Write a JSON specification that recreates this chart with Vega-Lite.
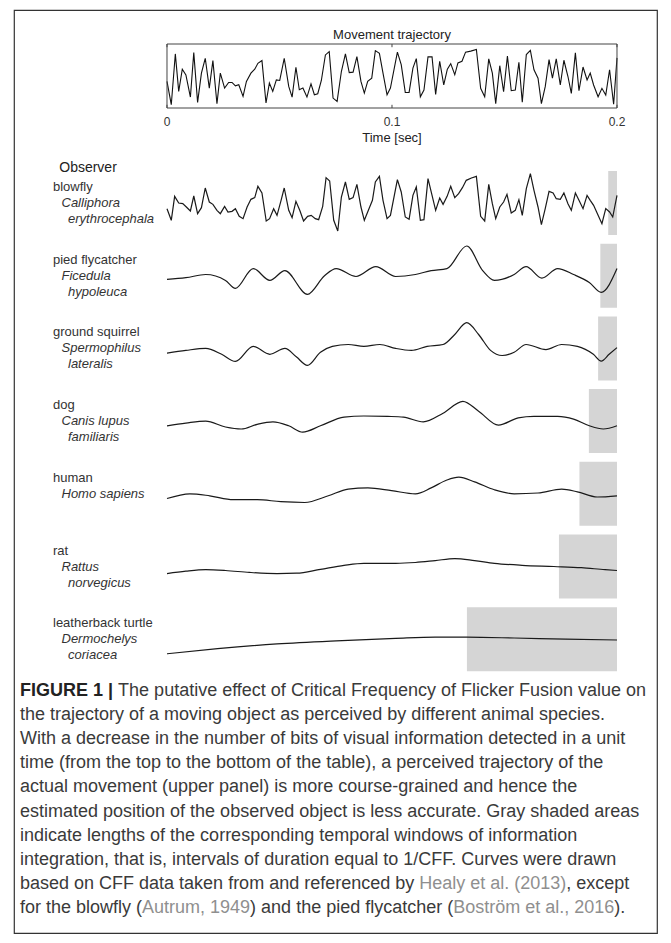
{
"$schema": "https://vega.github.io/schema/vega-lite/v6.json",
"width": 671, "height": 943,
"autosize": {"type": "fit", "contains": "padding"},
"padding": {"left": 14, "top": 10, "right": 14, "bottom": 10},
"background": "white",
"config": {"view": {"stroke": "#333333", "strokeWidth": 1.2}, "axis": {"disable": true}, "font": "Liberation Sans"},
"datasets": {
"traj": [
{"t":0,"v":0.415},{"t":0.0019,"v":0.052},{"t":0.0037,"v":0.845},{"t":0.0052,"v":0.259},{"t":0.0068,"v":0.606},{"t":0.0084,"v":0.518},{"t":0.0104,"v":0.171},{"t":0.0119,"v":0.865},{"t":0.0136,"v":0.088},{"t":0.0153,"v":0.544},{"t":0.017,"v":0.777},{"t":0.0188,"v":0.311},{"t":0.0204,"v":0.741},{"t":0.0222,"v":0.067},{"t":0.0237,"v":0.544},{"t":0.0256,"v":0.311},{"t":0.0274,"v":0.399},{"t":0.0289,"v":0.399},{"t":0.0304,"v":0.347},{"t":0.0319,"v":0.363},{"t":0.0338,"v":0.181},{"t":0.0353,"v":0.415},{"t":0.0373,"v":0.544},{"t":0.039,"v":0.606},{"t":0.0404,"v":0.699},{"t":0.0422,"v":0.741},{"t":0.044,"v":0.078},{"t":0.0455,"v":0.389},{"t":0.047,"v":0.259},{"t":0.0486,"v":0.44},{"t":0.0501,"v":0.43},{"t":0.0521,"v":0.777},{"t":0.0541,"v":0.337},{"t":0.0556,"v":0.171},{"t":0.0573,"v":0.637},{"t":0.0588,"v":0.285},{"t":0.0604,"v":0.311},{"t":0.0622,"v":0.171},{"t":0.064,"v":0.378},{"t":0.0655,"v":0.207},{"t":0.067,"v":0.223},{"t":0.0686,"v":0.43},{"t":0.0704,"v":0.829},{"t":0.0721,"v":0.881},{"t":0.0738,"v":0.155},{"t":0.0756,"v":0.104},{"t":0.0775,"v":0.57},{"t":0.0793,"v":0.845},{"t":0.081,"v":0.554},{"t":0.0827,"v":0.56},{"t":0.0844,"v":0.803},{"t":0.0862,"v":0.415},{"t":0.0877,"v":0.233},{"t":0.0892,"v":0.415},{"t":0.091,"v":0.466},{"t":0.0926,"v":0.896},{"t":0.0944,"v":0.855},{"t":0.096,"v":0.544},{"t":0.0978,"v":0.207},{"t":0.0993,"v":0.311},{"t":0.1024,"v":0.873},{"t":0.1041,"v":0.677},{"t":0.1059,"v":0.243},{"t":0.1076,"v":0.243},{"t":0.1093,"v":0.624},{"t":0.1108,"v":0.772},{"t":0.1126,"v":0.175},{"t":0.1142,"v":0.28},{"t":0.116,"v":0.799},{"t":0.1178,"v":0.799},{"t":0.1194,"v":0.212},{"t":0.1212,"v":0.73},{"t":0.123,"v":0.36},{"t":0.1246,"v":0.608},{"t":0.1261,"v":0.693},{"t":0.1279,"v":0.519},{"t":0.1293,"v":0.704},{"t":0.1311,"v":0.73},{"t":0.1327,"v":0.873},{"t":0.135,"v":0.889},{"t":0.1375,"v":0.915},{"t":0.1394,"v":0.307},{"t":0.1412,"v":0.175},{"t":0.143,"v":0.767},{"t":0.1446,"v":0.545},{"t":0.1461,"v":0.069},{"t":0.1479,"v":0.661},{"t":0.1496,"v":0.254},{"t":0.1513,"v":0.81},{"t":0.153,"v":0.27},{"t":0.1548,"v":0.28},{"t":0.1564,"v":0.714},{"t":0.1579,"v":0.09},{"t":0.1597,"v":0.836},{"t":0.1615,"v":0.899},{"t":0.1631,"v":0.598},{"t":0.1649,"v":0.466},{"t":0.1664,"v":0.069},{"t":0.1681,"v":0.333},{"t":0.1698,"v":0.757},{"t":0.1713,"v":0.466},{"t":0.173,"v":0.767},{"t":0.1748,"v":0.36},{"t":0.1764,"v":0.746},{"t":0.1782,"v":0.492},{"t":0.1797,"v":0.228},{"t":0.1815,"v":0.862},{"t":0.1831,"v":0.27},{"t":0.1849,"v":0.64},{"t":0.1867,"v":0.439},{"t":0.1881,"v":0.545},{"t":0.1896,"v":0.36},{"t":0.1916,"v":0.175},{"t":0.1933,"v":0.307},{"t":0.195,"v":0.201},{"t":0.1967,"v":0.598},{"t":0.1985,"v":0.058},{"t":0.2,"v":0.783}
],
"curves": [
{"sp":"blowfly","t":0,"v":-0.567},{"sp":"blowfly","t":0.0019,"v":-1.733},{"sp":"blowfly","t":0.0034,"v":0.667},{"sp":"blowfly","t":0.0052,"v":0},{"sp":"blowfly","t":0.007,"v":-0.067},{"sp":"blowfly","t":0.0086,"v":-0.4},{"sp":"blowfly","t":0.0104,"v":-0.8},{"sp":"blowfly","t":0.0119,"v":0.7},{"sp":"blowfly","t":0.0136,"v":-1.067},{"sp":"blowfly","t":0.0153,"v":-0.467},{"sp":"blowfly","t":0.017,"v":1.5},{"sp":"blowfly","t":0.0188,"v":0.1},{"sp":"blowfly","t":0.0204,"v":-0.133},{"sp":"blowfly","t":0.0222,"v":-0.733},{"sp":"blowfly","t":0.0237,"v":-1.067},{"sp":"blowfly","t":0.0256,"v":-0.333},{"sp":"blowfly","t":0.0271,"v":-0.9},{"sp":"blowfly","t":0.0289,"v":-0.833},{"sp":"blowfly","t":0.0304,"v":-0.567},{"sp":"blowfly","t":0.0321,"v":-1.333},{"sp":"blowfly","t":0.0338,"v":-1.567},{"sp":"blowfly","t":0.0356,"v":-0.4},{"sp":"blowfly","t":0.0373,"v":0.367},{"sp":"blowfly","t":0.039,"v":0.533},{"sp":"blowfly","t":0.0404,"v":1.667},{"sp":"blowfly","t":0.0422,"v":1.0},{"sp":"blowfly","t":0.0441,"v":-1.8},{"sp":"blowfly","t":0.0456,"v":-1.567},{"sp":"blowfly","t":0.0474,"v":-0.567},{"sp":"blowfly","t":0.0489,"v":-1.233},{"sp":"blowfly","t":0.0507,"v":0.267},{"sp":"blowfly","t":0.0521,"v":1.5},{"sp":"blowfly","t":0.0541,"v":-0.733},{"sp":"blowfly","t":0.0556,"v":-1.467},{"sp":"blowfly","t":0.0573,"v":0.167},{"sp":"blowfly","t":0.059,"v":-0.733},{"sp":"blowfly","t":0.0607,"v":-1.8},{"sp":"blowfly","t":0.0625,"v":-1.333},{"sp":"blowfly","t":0.0641,"v":-1.233},{"sp":"blowfly","t":0.0659,"v":-1.567},{"sp":"blowfly","t":0.0674,"v":-1.667},{"sp":"blowfly","t":0.0692,"v":-0.333},{"sp":"blowfly","t":0.0707,"v":2.533},{"sp":"blowfly","t":0.0723,"v":2.2},{"sp":"blowfly","t":0.0741,"v":-1.733},{"sp":"blowfly","t":0.0759,"v":-2.8},{"sp":"blowfly","t":0.0775,"v":0.6},{"sp":"blowfly","t":0.0793,"v":2.1},{"sp":"blowfly","t":0.081,"v":0.367},{"sp":"blowfly","t":0.0827,"v":0.533},{"sp":"blowfly","t":0.0844,"v":1.867},{"sp":"blowfly","t":0.0862,"v":-0.4},{"sp":"blowfly","t":0.0877,"v":-1.733},{"sp":"blowfly","t":0.0895,"v":-0.733},{"sp":"blowfly","t":0.0913,"v":0.267},{"sp":"blowfly","t":0.0926,"v":2.1},{"sp":"blowfly","t":0.0944,"v":2.667},{"sp":"blowfly","t":0.096,"v":0.267},{"sp":"blowfly","t":0.0978,"v":-1.567},{"sp":"blowfly","t":0.0993,"v":-1.233},{"sp":"blowfly","t":0.1024,"v":2.333},{"sp":"blowfly","t":0.1041,"v":1.1},{"sp":"blowfly","t":0.1059,"v":-1.4},{"sp":"blowfly","t":0.1076,"v":-1.633},{"sp":"blowfly","t":0.1093,"v":0.767},{"sp":"blowfly","t":0.1108,"v":1.6},{"sp":"blowfly","t":0.1126,"v":-1.733},{"sp":"blowfly","t":0.1142,"v":-1.667},{"sp":"blowfly","t":0.116,"v":2.433},{"sp":"blowfly","t":0.1178,"v":0.767},{"sp":"blowfly","t":0.1194,"v":-0.733},{"sp":"blowfly","t":0.1212,"v":0.5},{"sp":"blowfly","t":0.1227,"v":-0.133},{"sp":"blowfly","t":0.1245,"v":0.667},{"sp":"blowfly","t":0.1261,"v":1.667},{"sp":"blowfly","t":0.1279,"v":0.533},{"sp":"blowfly","t":0.1296,"v":0.933},{"sp":"blowfly","t":0.1313,"v":1.533},{"sp":"blowfly","t":0.133,"v":2.267},{"sp":"blowfly","t":0.1353,"v":2.5},{"sp":"blowfly","t":0.1375,"v":2.667},{"sp":"blowfly","t":0.1394,"v":-1.333},{"sp":"blowfly","t":0.1412,"v":-1.8},{"sp":"blowfly","t":0.143,"v":1.867},{"sp":"blowfly","t":0.1446,"v":-0.067},{"sp":"blowfly","t":0.1461,"v":-1.567},{"sp":"blowfly","t":0.1479,"v":-0.4},{"sp":"blowfly","t":0.1496,"v":0.1},{"sp":"blowfly","t":0.1511,"v":0.867},{"sp":"blowfly","t":0.153,"v":-1.0},{"sp":"blowfly","t":0.1548,"v":-0.733},{"sp":"blowfly","t":0.1564,"v":0.333},{"sp":"blowfly","t":0.1579,"v":-1.233},{"sp":"blowfly","t":0.1597,"v":1.433},{"sp":"blowfly","t":0.1615,"v":2.933},{"sp":"blowfly","t":0.1631,"v":1.267},{"sp":"blowfly","t":0.1649,"v":-0.4},{"sp":"blowfly","t":0.1664,"v":-2.167},{"sp":"blowfly","t":0.1681,"v":-0.567},{"sp":"blowfly","t":0.1698,"v":1.167},{"sp":"blowfly","t":0.1716,"v":1.0},{"sp":"blowfly","t":0.173,"v":0.433},{"sp":"blowfly","t":0.1748,"v":0.367},{"sp":"blowfly","t":0.1764,"v":1.0},{"sp":"blowfly","t":0.1782,"v":-0.067},{"sp":"blowfly","t":0.1797,"v":-0.733},{"sp":"blowfly","t":0.1815,"v":1.0},{"sp":"blowfly","t":0.1831,"v":0.267},{"sp":"blowfly","t":0.1849,"v":-0.567},{"sp":"blowfly","t":0.1867,"v":0.767},{"sp":"blowfly","t":0.1881,"v":0.267},{"sp":"blowfly","t":0.1896,"v":-0.233},{"sp":"blowfly","t":0.1916,"v":-1.233},{"sp":"blowfly","t":0.1933,"v":-2.067},{"sp":"blowfly","t":0.195,"v":-0.567},{"sp":"blowfly","t":0.1967,"v":-0.9},{"sp":"blowfly","t":0.1981,"v":-1.4},{"sp":"blowfly","t":0.2,"v":0.767},
{"sp":"flycatcher","t":0,"v":-0.36},{"sp":"flycatcher","t":0.0084,"v":-0.2},{"sp":"flycatcher","t":0.0172,"v":0.12},{"sp":"flycatcher","t":0.026,"v":-0.47},{"sp":"flycatcher","t":0.0304,"v":-1.27},{"sp":"flycatcher","t":0.0383,"v":0.71},{"sp":"flycatcher","t":0.0457,"v":-0.47},{"sp":"flycatcher","t":0.0524,"v":0.51},{"sp":"flycatcher","t":0.0624,"v":-1.86},{"sp":"flycatcher","t":0.07,"v":0},{"sp":"flycatcher","t":0.0752,"v":0.71},{"sp":"flycatcher","t":0.084,"v":-0.08},{"sp":"flycatcher","t":0.0928,"v":0.91},{"sp":"flycatcher","t":0.1016,"v":-0.08},{"sp":"flycatcher","t":0.1104,"v":0.12},{"sp":"flycatcher","t":0.1174,"v":0.51},{"sp":"flycatcher","t":0.1244,"v":0.71},{"sp":"flycatcher","t":0.1332,"v":2.97},{"sp":"flycatcher","t":0.1403,"v":0.51},{"sp":"flycatcher","t":0.1455,"v":-0.47},{"sp":"flycatcher","t":0.1543,"v":0.12},{"sp":"flycatcher","t":0.1596,"v":0.91},{"sp":"flycatcher","t":0.1666,"v":-0.24},{"sp":"flycatcher","t":0.1736,"v":0.71},{"sp":"flycatcher","t":0.1807,"v":0.12},{"sp":"flycatcher","t":0.1877,"v":-0.68},{"sp":"flycatcher","t":0.193,"v":-1.66},{"sp":"flycatcher","t":0.2,"v":0.71},
{"sp":"squirrel","t":0,"v":-0.47},{"sp":"squirrel","t":0.0084,"v":-0.2},{"sp":"squirrel","t":0.0172,"v":0},{"sp":"squirrel","t":0.0243,"v":-0.59},{"sp":"squirrel","t":0.0304,"v":-1.3},{"sp":"squirrel","t":0.0383,"v":0.2},{"sp":"squirrel","t":0.0457,"v":-0.59},{"sp":"squirrel","t":0.0524,"v":0},{"sp":"squirrel","t":0.0576,"v":-0.87},{"sp":"squirrel","t":0.0624,"v":-1.7},{"sp":"squirrel","t":0.0682,"v":-0.39},{"sp":"squirrel","t":0.0735,"v":0.2},{"sp":"squirrel","t":0.0805,"v":0.39},{"sp":"squirrel","t":0.0875,"v":0.2},{"sp":"squirrel","t":0.0946,"v":0.39},{"sp":"squirrel","t":0.1016,"v":0},{"sp":"squirrel","t":0.1086,"v":-0.2},{"sp":"squirrel","t":0.1156,"v":0.2},{"sp":"squirrel","t":0.1227,"v":0.39},{"sp":"squirrel","t":0.1279,"v":1.39},{"sp":"squirrel","t":0.1332,"v":2.57},{"sp":"squirrel","t":0.1385,"v":1.39},{"sp":"squirrel","t":0.1438,"v":-0.2},{"sp":"squirrel","t":0.149,"v":-0.71},{"sp":"squirrel","t":0.1543,"v":-0.39},{"sp":"squirrel","t":0.1596,"v":0.39},{"sp":"squirrel","t":0.1684,"v":-0.12},{"sp":"squirrel","t":0.1754,"v":0.39},{"sp":"squirrel","t":0.1824,"v":0.2},{"sp":"squirrel","t":0.1895,"v":-0.59},{"sp":"squirrel","t":0.193,"v":-1.27},{"sp":"squirrel","t":0.1965,"v":-0.59},{"sp":"squirrel","t":0.2,"v":0.08},
{"sp":"dog","t":0,"v":-0.47},{"sp":"dog","t":0.0084,"v":-0.2},{"sp":"dog","t":0.0172,"v":0},{"sp":"dog","t":0.026,"v":-0.59},{"sp":"dog","t":0.033,"v":-0.79},{"sp":"dog","t":0.0401,"v":-0.32},{"sp":"dog","t":0.0471,"v":-0.08},{"sp":"dog","t":0.0541,"v":-0.47},{"sp":"dog","t":0.0603,"v":-1.1},{"sp":"dog","t":0.0682,"v":-0.47},{"sp":"dog","t":0.0787,"v":0.4},{"sp":"dog","t":0.0875,"v":0.51},{"sp":"dog","t":0.0981,"v":0.47},{"sp":"dog","t":0.1051,"v":0.4},{"sp":"dog","t":0.1139,"v":-0.08},{"sp":"dog","t":0.1227,"v":0.79},{"sp":"dog","t":0.1315,"v":1.98},{"sp":"dog","t":0.1385,"v":0.99},{"sp":"dog","t":0.1473,"v":-0.4},{"sp":"dog","t":0.1561,"v":0.32},{"sp":"dog","t":0.1631,"v":0.47},{"sp":"dog","t":0.1736,"v":0.47},{"sp":"dog","t":0.1807,"v":0.2},{"sp":"dog","t":0.1877,"v":-0.47},{"sp":"dog","t":0.1939,"v":-0.79},{"sp":"dog","t":0.2,"v":-0.47},
{"sp":"human","t":0,"v":-0.47},{"sp":"human","t":0.0102,"v":0},{"sp":"human","t":0.019,"v":-0.2},{"sp":"human","t":0.0295,"v":-0.59},{"sp":"human","t":0.0401,"v":-0.59},{"sp":"human","t":0.0506,"v":-0.79},{"sp":"human","t":0.0612,"v":-0.87},{"sp":"human","t":0.0717,"v":-0.2},{"sp":"human","t":0.0805,"v":0.47},{"sp":"human","t":0.0893,"v":0.59},{"sp":"human","t":0.0998,"v":0.32},{"sp":"human","t":0.1104,"v":0},{"sp":"human","t":0.1174,"v":0.59},{"sp":"human","t":0.1244,"v":1.38},{"sp":"human","t":0.1297,"v":1.66},{"sp":"human","t":0.1367,"v":1.19},{"sp":"human","t":0.1455,"v":0.4},{"sp":"human","t":0.1543,"v":0},{"sp":"human","t":0.1649,"v":0.08},{"sp":"human","t":0.1754,"v":0.47},{"sp":"human","t":0.1824,"v":0.2},{"sp":"human","t":0.1912,"v":-0.32},{"sp":"human","t":0.2,"v":-0.2},
{"sp":"rat","t":0,"v":-0.71},{"sp":"rat","t":0.0084,"v":-0.47},{"sp":"rat","t":0.0172,"v":-0.32},{"sp":"rat","t":0.026,"v":-0.4},{"sp":"rat","t":0.0366,"v":-0.59},{"sp":"rat","t":0.0489,"v":-0.71},{"sp":"rat","t":0.0576,"v":-0.67},{"sp":"rat","t":0.0682,"v":-0.28},{"sp":"rat","t":0.0787,"v":0.12},{"sp":"rat","t":0.0875,"v":0.32},{"sp":"rat","t":0.1016,"v":0.32},{"sp":"rat","t":0.1104,"v":0.4},{"sp":"rat","t":0.1192,"v":0.59},{"sp":"rat","t":0.1279,"v":0.79},{"sp":"rat","t":0.1367,"v":0.59},{"sp":"rat","t":0.1455,"v":0.32},{"sp":"rat","t":0.1578,"v":0.12},{"sp":"rat","t":0.1719,"v":0},{"sp":"rat","t":0.1842,"v":-0.12},{"sp":"rat","t":0.1947,"v":-0.32},{"sp":"rat","t":0.2,"v":-0.4},
{"sp":"turtle","t":0,"v":-1.46},{"sp":"turtle","t":0.0225,"v":-0.95},{"sp":"turtle","t":0.0489,"v":-0.47},{"sp":"turtle","t":0.0752,"v":-0.16},{"sp":"turtle","t":0.1016,"v":0.08},{"sp":"turtle","t":0.1192,"v":0.2},{"sp":"turtle","t":0.1332,"v":0.2},{"sp":"turtle","t":0.1543,"v":0.12},{"sp":"turtle","t":0.1772,"v":0},{"sp":"turtle","t":0.2,"v":-0.08}
],
"windows": [
{"sp":"blowfly","t0":0.1961,"t1":0.2},{"sp":"flycatcher","t0":0.1926,"t1":0.2},{"sp":"squirrel","t0":0.1916,"t1":0.2},{"sp":"dog","t0":0.1875,"t1":0.2},{"sp":"human","t0":0.1833,"t1":0.2},{"sp":"rat","t0":0.1742,"t1":0.2},{"sp":"turtle","t0":0.1333,"t1":0.2}
],
"labels": [
{"sp":"blowfly","line":1,"text":"blowfly"},{"sp":"blowfly","line":2,"text":"Calliphora"},{"sp":"blowfly","line":3,"text":"erythrocephala"},
{"sp":"flycatcher","line":1,"text":"pied flycatcher"},{"sp":"flycatcher","line":2,"text":"Ficedula"},{"sp":"flycatcher","line":3,"text":"hypoleuca"},
{"sp":"squirrel","line":1,"text":"ground squirrel"},{"sp":"squirrel","line":2,"text":"Spermophilus"},{"sp":"squirrel","line":3,"text":"lateralis"},
{"sp":"dog","line":1,"text":"dog"},{"sp":"dog","line":2,"text":"Canis lupus"},{"sp":"dog","line":3,"text":"familiaris"},
{"sp":"human","line":1,"text":"human"},{"sp":"human","line":2,"text":"Homo sapiens"},
{"sp":"rat","line":1,"text":"rat"},{"sp":"rat","line":2,"text":"Rattus"},{"sp":"rat","line":3,"text":"norvegicus"},
{"sp":"turtle","line":1,"text":"leatherback turtle"},{"sp":"turtle","line":2,"text":"Dermochelys"},{"sp":"turtle","line":3,"text":"coriacea"}
],
"ticks": [{"t":0,"label":"0"},{"t":0.1,"label":"0.1"},{"t":0.2,"label":"0.2"}],
"titles": [{"id":"top","text":"Movement trajectory"},{"id":"xaxis","text":"Time [sec]"},{"id":"observer","text":"Observer"}],
"caption": [
{"line":1,"seg":"bold","text":"FIGURE 1 |"},
{"line":1,"seg":"s1","text":"The putative effect of Critical Frequency of Flicker Fusion value on"},
{"line":2,"seg":"main","text":"the trajectory of a moving object as perceived by different animal species."},
{"line":3,"seg":"main","text":"With a decrease in the number of bits of visual information detected in a unit"},
{"line":4,"seg":"main","text":"time (from the top to the bottom of the table), a perceived trajectory of the"},
{"line":5,"seg":"main","text":"actual movement (upper panel) is more course-grained and hence the"},
{"line":6,"seg":"main","text":"estimated position of the observed object is less accurate. Gray shaded areas"},
{"line":7,"seg":"main","text":"indicate lengths of the corresponding temporal windows of information"},
{"line":8,"seg":"main","text":"integration, that is, intervals of duration equal to 1/CFF. Curves were drawn"},
{"line":9,"seg":"main","text":"based on CFF data taken from and referenced by"},
{"line":9,"seg":"r1","text":"Healy et al. (2013)"},
{"line":9,"seg":"s9","text":", except"},
{"line":10,"seg":"main","text":"for the blowfly ("},
{"line":10,"seg":"r2","text":"Autrum, 1949"},
{"line":10,"seg":"s10a","text":") and the pied flycatcher ("},
{"line":10,"seg":"r3","text":"Boström et al., 2016"},
{"line":10,"seg":"s10b","text":")."}
]
},
"resolve": {"scale": {"y": "independent"}},
"layer": [
{
"layer": [
{"data":{"name":"traj"},"mark":{"type":"line","color":"#111111","strokeWidth":1.1},"encoding":{"x":{"field":"t","type":"quantitative","scale":{"domain":[-0.068,0.217778],"nice":false,"zero":false}},"y":{"field":"v","type":"quantitative","scale":{"domain":[-12.890625,1.53125],"nice":false,"zero":false}}}},
{"data":{"values":[{"box":"trajectory"}]},"mark":{"type":"rect","filled":false,"stroke":"#444444","strokeWidth":1},"encoding":{"x":{"datum":0,"type":"quantitative","scale":{"domain":[-0.068,0.217778],"nice":false,"zero":false}},"x2":{"datum":0.2},"y":{"datum":0,"type":"quantitative","scale":{"domain":[-12.890625,1.53125],"nice":false,"zero":false}},"y2":{"datum":1}}},
{"data":{"name":"ticks"},"mark":{"type":"rule","color":"#444444","strokeWidth":1},"encoding":{"x":{"field":"t","type":"quantitative","scale":{"domain":[-0.068,0.217778],"nice":false,"zero":false}},"y":{"datum":0,"type":"quantitative","scale":{"domain":[-12.890625,1.53125],"nice":false,"zero":false}},"y2":{"datum":0.05}}},
{"data":{"name":"ticks"},"mark":{"type":"rule","color":"#444444","strokeWidth":1},"encoding":{"x":{"field":"t","type":"quantitative","scale":{"domain":[-0.068,0.217778],"nice":false,"zero":false}},"y":{"datum":0.95,"type":"quantitative","scale":{"domain":[-12.890625,1.53125],"nice":false,"zero":false}},"y2":{"datum":1}}},
{"data":{"name":"ticks"},"mark":{"type":"text","align":"center","baseline":"middle","fontSize":12,"color":"#333333"},"encoding":{"x":{"field":"t","type":"quantitative","scale":{"domain":[-0.068,0.217778],"nice":false,"zero":false}},"y":{"datum":-0.21875,"type":"quantitative","scale":{"domain":[-12.890625,1.53125],"nice":false,"zero":false}},"text":{"field":"label"}}},
{"data":{"name":"titles"},"transform":[{"filter":"datum.id==='top'"}],"mark":{"type":"text","align":"center","baseline":"middle","fontSize":13,"color":"#222222"},"encoding":{"x":{"datum":0.1,"type":"quantitative","scale":{"domain":[-0.068,0.217778],"nice":false,"zero":false}},"y":{"datum":1.14,"type":"quantitative","scale":{"domain":[-12.890625,1.53125],"nice":false,"zero":false}},"text":{"field":"text"}}},
{"data":{"name":"titles"},"transform":[{"filter":"datum.id==='xaxis'"}],"mark":{"type":"text","align":"center","baseline":"middle","fontSize":13,"color":"#222222"},"encoding":{"x":{"datum":0.1,"type":"quantitative","scale":{"domain":[-0.068,0.217778],"nice":false,"zero":false}},"y":{"datum":-0.46875,"type":"quantitative","scale":{"domain":[-12.890625,1.53125],"nice":false,"zero":false}},"text":{"field":"text"}}},
{"data":{"name":"titles"},"transform":[{"filter":"datum.id==='observer'"}],"mark":{"type":"text","align":"center","baseline":"middle","fontSize":14,"color":"#222222"},"encoding":{"x":{"datum":-0.0351,"type":"quantitative","scale":{"domain":[-0.068,0.217778],"nice":false,"zero":false}},"y":{"datum":-0.94,"type":"quantitative","scale":{"domain":[-12.890625,1.53125],"nice":false,"zero":false}},"text":{"field":"text"}}}
]
},
{
"layer": [
{"data":{"name":"windows"},"transform":[{"filter":"datum.sp==='blowfly'"}],"mark":{"type":"rect","color":"#d5d5d5"},"encoding":{"x":{"field":"t0","type":"quantitative","scale":{"domain":[-0.068,0.217778],"nice":false,"zero":false}},"x2":{"field":"t1"},"y":{"datum":-3.2,"type":"quantitative","scale":{"domain":[-73.0,19.3],"nice":false,"zero":false}},"y2":{"datum":3.2}}},
{"data":{"name":"curves"},"transform":[{"filter":"datum.sp==='blowfly'"}],"mark":{"type":"line","color":"#1a1a1a","strokeWidth":1.2},"encoding":{"x":{"field":"t","type":"quantitative","scale":{"domain":[-0.068,0.217778],"nice":false,"zero":false}},"y":{"field":"v","type":"quantitative","scale":{"domain":[-73.0,19.3],"nice":false,"zero":false}}}},
{"data":{"name":"labels"},"transform":[{"filter":"datum.sp==='blowfly' && datum.line===1"}],"mark":{"type":"text","align":"left","baseline":"middle","fontSize":13,"color":"#333333"},"encoding":{"x":{"datum":-0.050667,"type":"quantitative","scale":{"domain":[-0.068,0.217778],"nice":false,"zero":false}},"y":{"datum":1.6,"type":"quantitative","scale":{"domain":[-73.0,19.3],"nice":false,"zero":false}},"text":{"field":"text"}}},
{"data":{"name":"labels"},"transform":[{"filter":"datum.sp==='blowfly' && datum.line===2"}],"mark":{"type":"text","align":"left","baseline":"middle","fontSize":13,"fontStyle":"italic","color":"#333333"},"encoding":{"x":{"datum":-0.046889,"type":"quantitative","scale":{"domain":[-0.068,0.217778],"nice":false,"zero":false}},"y":{"datum":0,"type":"quantitative","scale":{"domain":[-73.0,19.3],"nice":false,"zero":false}},"text":{"field":"text"}}},
{"data":{"name":"labels"},"transform":[{"filter":"datum.sp==='blowfly' && datum.line===3"}],"mark":{"type":"text","align":"left","baseline":"middle","fontSize":13,"fontStyle":"italic","color":"#333333"},"encoding":{"x":{"datum":-0.044,"type":"quantitative","scale":{"domain":[-0.068,0.217778],"nice":false,"zero":false}},"y":{"datum":-1.6,"type":"quantitative","scale":{"domain":[-73.0,19.3],"nice":false,"zero":false}},"text":{"field":"text"}}}
]
},
{
"layer": [
{"data":{"name":"windows"},"transform":[{"filter":"datum.sp==='flycatcher'"}],"mark":{"type":"rect","color":"#d5d5d5"},"encoding":{"x":{"field":"t0","type":"quantitative","scale":{"domain":[-0.068,0.217778],"nice":false,"zero":false}},"x2":{"field":"t1"},"y":{"datum":-3.2,"type":"quantitative","scale":{"domain":[-65.73,26.57],"nice":false,"zero":false}},"y2":{"datum":3.2}}},
{"data":{"name":"curves"},"transform":[{"filter":"datum.sp==='flycatcher'"}],"mark":{"type":"line","color":"#1a1a1a","strokeWidth":1.2,"interpolate":"monotone"},"encoding":{"x":{"field":"t","type":"quantitative","scale":{"domain":[-0.068,0.217778],"nice":false,"zero":false}},"y":{"field":"v","type":"quantitative","scale":{"domain":[-65.73,26.57],"nice":false,"zero":false}}}},
{"data":{"name":"labels"},"transform":[{"filter":"datum.sp==='flycatcher' && datum.line===1"}],"mark":{"type":"text","align":"left","baseline":"middle","fontSize":13,"color":"#333333"},"encoding":{"x":{"datum":-0.050667,"type":"quantitative","scale":{"domain":[-0.068,0.217778],"nice":false,"zero":false}},"y":{"datum":1.6,"type":"quantitative","scale":{"domain":[-65.73,26.57],"nice":false,"zero":false}},"text":{"field":"text"}}},
{"data":{"name":"labels"},"transform":[{"filter":"datum.sp==='flycatcher' && datum.line===2"}],"mark":{"type":"text","align":"left","baseline":"middle","fontSize":13,"fontStyle":"italic","color":"#333333"},"encoding":{"x":{"datum":-0.046889,"type":"quantitative","scale":{"domain":[-0.068,0.217778],"nice":false,"zero":false}},"y":{"datum":0,"type":"quantitative","scale":{"domain":[-65.73,26.57],"nice":false,"zero":false}},"text":{"field":"text"}}},
{"data":{"name":"labels"},"transform":[{"filter":"datum.sp==='flycatcher' && datum.line===3"}],"mark":{"type":"text","align":"left","baseline":"middle","fontSize":13,"fontStyle":"italic","color":"#333333"},"encoding":{"x":{"datum":-0.044,"type":"quantitative","scale":{"domain":[-0.068,0.217778],"nice":false,"zero":false}},"y":{"datum":-1.6,"type":"quantitative","scale":{"domain":[-65.73,26.57],"nice":false,"zero":false}},"text":{"field":"text"}}}
]
},
{
"layer": [
{"data":{"name":"windows"},"transform":[{"filter":"datum.sp==='squirrel'"}],"mark":{"type":"rect","color":"#d5d5d5"},"encoding":{"x":{"field":"t0","type":"quantitative","scale":{"domain":[-0.068,0.217778],"nice":false,"zero":false}},"x2":{"field":"t1"},"y":{"datum":-3.2,"type":"quantitative","scale":{"domain":[-58.46,33.84],"nice":false,"zero":false}},"y2":{"datum":3.2}}},
{"data":{"name":"curves"},"transform":[{"filter":"datum.sp==='squirrel'"}],"mark":{"type":"line","color":"#1a1a1a","strokeWidth":1.2,"interpolate":"monotone"},"encoding":{"x":{"field":"t","type":"quantitative","scale":{"domain":[-0.068,0.217778],"nice":false,"zero":false}},"y":{"field":"v","type":"quantitative","scale":{"domain":[-58.46,33.84],"nice":false,"zero":false}}}},
{"data":{"name":"labels"},"transform":[{"filter":"datum.sp==='squirrel' && datum.line===1"}],"mark":{"type":"text","align":"left","baseline":"middle","fontSize":13,"color":"#333333"},"encoding":{"x":{"datum":-0.050667,"type":"quantitative","scale":{"domain":[-0.068,0.217778],"nice":false,"zero":false}},"y":{"datum":1.6,"type":"quantitative","scale":{"domain":[-58.46,33.84],"nice":false,"zero":false}},"text":{"field":"text"}}},
{"data":{"name":"labels"},"transform":[{"filter":"datum.sp==='squirrel' && datum.line===2"}],"mark":{"type":"text","align":"left","baseline":"middle","fontSize":13,"fontStyle":"italic","color":"#333333"},"encoding":{"x":{"datum":-0.046889,"type":"quantitative","scale":{"domain":[-0.068,0.217778],"nice":false,"zero":false}},"y":{"datum":0,"type":"quantitative","scale":{"domain":[-58.46,33.84],"nice":false,"zero":false}},"text":{"field":"text"}}},
{"data":{"name":"labels"},"transform":[{"filter":"datum.sp==='squirrel' && datum.line===3"}],"mark":{"type":"text","align":"left","baseline":"middle","fontSize":13,"fontStyle":"italic","color":"#333333"},"encoding":{"x":{"datum":-0.044,"type":"quantitative","scale":{"domain":[-0.068,0.217778],"nice":false,"zero":false}},"y":{"datum":-1.6,"type":"quantitative","scale":{"domain":[-58.46,33.84],"nice":false,"zero":false}},"text":{"field":"text"}}}
]
},
{
"layer": [
{"data":{"name":"windows"},"transform":[{"filter":"datum.sp==='dog'"}],"mark":{"type":"rect","color":"#d5d5d5"},"encoding":{"x":{"field":"t0","type":"quantitative","scale":{"domain":[-0.068,0.217778],"nice":false,"zero":false}},"x2":{"field":"t1"},"y":{"datum":-3.2,"type":"quantitative","scale":{"domain":[-51.19,41.11],"nice":false,"zero":false}},"y2":{"datum":3.2}}},
{"data":{"name":"curves"},"transform":[{"filter":"datum.sp==='dog'"}],"mark":{"type":"line","color":"#1a1a1a","strokeWidth":1.2,"interpolate":"monotone"},"encoding":{"x":{"field":"t","type":"quantitative","scale":{"domain":[-0.068,0.217778],"nice":false,"zero":false}},"y":{"field":"v","type":"quantitative","scale":{"domain":[-51.19,41.11],"nice":false,"zero":false}}}},
{"data":{"name":"labels"},"transform":[{"filter":"datum.sp==='dog' && datum.line===1"}],"mark":{"type":"text","align":"left","baseline":"middle","fontSize":13,"color":"#333333"},"encoding":{"x":{"datum":-0.050667,"type":"quantitative","scale":{"domain":[-0.068,0.217778],"nice":false,"zero":false}},"y":{"datum":1.6,"type":"quantitative","scale":{"domain":[-51.19,41.11],"nice":false,"zero":false}},"text":{"field":"text"}}},
{"data":{"name":"labels"},"transform":[{"filter":"datum.sp==='dog' && datum.line===2"}],"mark":{"type":"text","align":"left","baseline":"middle","fontSize":13,"fontStyle":"italic","color":"#333333"},"encoding":{"x":{"datum":-0.046889,"type":"quantitative","scale":{"domain":[-0.068,0.217778],"nice":false,"zero":false}},"y":{"datum":0,"type":"quantitative","scale":{"domain":[-51.19,41.11],"nice":false,"zero":false}},"text":{"field":"text"}}},
{"data":{"name":"labels"},"transform":[{"filter":"datum.sp==='dog' && datum.line===3"}],"mark":{"type":"text","align":"left","baseline":"middle","fontSize":13,"fontStyle":"italic","color":"#333333"},"encoding":{"x":{"datum":-0.044,"type":"quantitative","scale":{"domain":[-0.068,0.217778],"nice":false,"zero":false}},"y":{"datum":-1.6,"type":"quantitative","scale":{"domain":[-51.19,41.11],"nice":false,"zero":false}},"text":{"field":"text"}}}
]
},
{
"layer": [
{"data":{"name":"windows"},"transform":[{"filter":"datum.sp==='human'"}],"mark":{"type":"rect","color":"#d5d5d5"},"encoding":{"x":{"field":"t0","type":"quantitative","scale":{"domain":[-0.068,0.217778],"nice":false,"zero":false}},"x2":{"field":"t1"},"y":{"datum":-3.2,"type":"quantitative","scale":{"domain":[-43.92,48.38],"nice":false,"zero":false}},"y2":{"datum":3.2}}},
{"data":{"name":"curves"},"transform":[{"filter":"datum.sp==='human'"}],"mark":{"type":"line","color":"#1a1a1a","strokeWidth":1.2,"interpolate":"monotone"},"encoding":{"x":{"field":"t","type":"quantitative","scale":{"domain":[-0.068,0.217778],"nice":false,"zero":false}},"y":{"field":"v","type":"quantitative","scale":{"domain":[-43.92,48.38],"nice":false,"zero":false}}}},
{"data":{"name":"labels"},"transform":[{"filter":"datum.sp==='human' && datum.line===1"}],"mark":{"type":"text","align":"left","baseline":"middle","fontSize":13,"color":"#333333"},"encoding":{"x":{"datum":-0.050667,"type":"quantitative","scale":{"domain":[-0.068,0.217778],"nice":false,"zero":false}},"y":{"datum":1.6,"type":"quantitative","scale":{"domain":[-43.92,48.38],"nice":false,"zero":false}},"text":{"field":"text"}}},
{"data":{"name":"labels"},"transform":[{"filter":"datum.sp==='human' && datum.line===2"}],"mark":{"type":"text","align":"left","baseline":"middle","fontSize":13,"fontStyle":"italic","color":"#333333"},"encoding":{"x":{"datum":-0.046889,"type":"quantitative","scale":{"domain":[-0.068,0.217778],"nice":false,"zero":false}},"y":{"datum":0,"type":"quantitative","scale":{"domain":[-43.92,48.38],"nice":false,"zero":false}},"text":{"field":"text"}}}
]
},
{
"layer": [
{"data":{"name":"windows"},"transform":[{"filter":"datum.sp==='rat'"}],"mark":{"type":"rect","color":"#d5d5d5"},"encoding":{"x":{"field":"t0","type":"quantitative","scale":{"domain":[-0.068,0.217778],"nice":false,"zero":false}},"x2":{"field":"t1"},"y":{"datum":-3.2,"type":"quantitative","scale":{"domain":[-36.65,55.65],"nice":false,"zero":false}},"y2":{"datum":3.2}}},
{"data":{"name":"curves"},"transform":[{"filter":"datum.sp==='rat'"}],"mark":{"type":"line","color":"#1a1a1a","strokeWidth":1.2,"interpolate":"monotone"},"encoding":{"x":{"field":"t","type":"quantitative","scale":{"domain":[-0.068,0.217778],"nice":false,"zero":false}},"y":{"field":"v","type":"quantitative","scale":{"domain":[-36.65,55.65],"nice":false,"zero":false}}}},
{"data":{"name":"labels"},"transform":[{"filter":"datum.sp==='rat' && datum.line===1"}],"mark":{"type":"text","align":"left","baseline":"middle","fontSize":13,"color":"#333333"},"encoding":{"x":{"datum":-0.050667,"type":"quantitative","scale":{"domain":[-0.068,0.217778],"nice":false,"zero":false}},"y":{"datum":1.6,"type":"quantitative","scale":{"domain":[-36.65,55.65],"nice":false,"zero":false}},"text":{"field":"text"}}},
{"data":{"name":"labels"},"transform":[{"filter":"datum.sp==='rat' && datum.line===2"}],"mark":{"type":"text","align":"left","baseline":"middle","fontSize":13,"fontStyle":"italic","color":"#333333"},"encoding":{"x":{"datum":-0.046889,"type":"quantitative","scale":{"domain":[-0.068,0.217778],"nice":false,"zero":false}},"y":{"datum":0,"type":"quantitative","scale":{"domain":[-36.65,55.65],"nice":false,"zero":false}},"text":{"field":"text"}}},
{"data":{"name":"labels"},"transform":[{"filter":"datum.sp==='rat' && datum.line===3"}],"mark":{"type":"text","align":"left","baseline":"middle","fontSize":13,"fontStyle":"italic","color":"#333333"},"encoding":{"x":{"datum":-0.044,"type":"quantitative","scale":{"domain":[-0.068,0.217778],"nice":false,"zero":false}},"y":{"datum":-1.6,"type":"quantitative","scale":{"domain":[-36.65,55.65],"nice":false,"zero":false}},"text":{"field":"text"}}}
]
},
{
"layer": [
{"data":{"name":"windows"},"transform":[{"filter":"datum.sp==='turtle'"}],"mark":{"type":"rect","color":"#d5d5d5"},"encoding":{"x":{"field":"t0","type":"quantitative","scale":{"domain":[-0.068,0.217778],"nice":false,"zero":false}},"x2":{"field":"t1"},"y":{"datum":-3.2,"type":"quantitative","scale":{"domain":[-29.38,62.92],"nice":false,"zero":false}},"y2":{"datum":3.2}}},
{"data":{"name":"curves"},"transform":[{"filter":"datum.sp==='turtle'"}],"mark":{"type":"line","color":"#1a1a1a","strokeWidth":1.2,"interpolate":"monotone"},"encoding":{"x":{"field":"t","type":"quantitative","scale":{"domain":[-0.068,0.217778],"nice":false,"zero":false}},"y":{"field":"v","type":"quantitative","scale":{"domain":[-29.38,62.92],"nice":false,"zero":false}}}},
{"data":{"name":"labels"},"transform":[{"filter":"datum.sp==='turtle' && datum.line===1"}],"mark":{"type":"text","align":"left","baseline":"middle","fontSize":13,"color":"#333333"},"encoding":{"x":{"datum":-0.050667,"type":"quantitative","scale":{"domain":[-0.068,0.217778],"nice":false,"zero":false}},"y":{"datum":1.6,"type":"quantitative","scale":{"domain":[-29.38,62.92],"nice":false,"zero":false}},"text":{"field":"text"}}},
{"data":{"name":"labels"},"transform":[{"filter":"datum.sp==='turtle' && datum.line===2"}],"mark":{"type":"text","align":"left","baseline":"middle","fontSize":13,"fontStyle":"italic","color":"#333333"},"encoding":{"x":{"datum":-0.046889,"type":"quantitative","scale":{"domain":[-0.068,0.217778],"nice":false,"zero":false}},"y":{"datum":0,"type":"quantitative","scale":{"domain":[-29.38,62.92],"nice":false,"zero":false}},"text":{"field":"text"}}},
{"data":{"name":"labels"},"transform":[{"filter":"datum.sp==='turtle' && datum.line===3"}],"mark":{"type":"text","align":"left","baseline":"middle","fontSize":13,"fontStyle":"italic","color":"#333333"},"encoding":{"x":{"datum":-0.044,"type":"quantitative","scale":{"domain":[-0.068,0.217778],"nice":false,"zero":false}},"y":{"datum":-1.6,"type":"quantitative","scale":{"domain":[-29.38,62.92],"nice":false,"zero":false}},"text":{"field":"text"}}}
]
},
{
"data": {"name": "caption"},
"layer": [
{"transform":[{"filter":"datum.seg==='bold'"}],"mark":{"type":"text","align":"left","baseline":"middle","fontSize":18,"fontWeight":"bold","color":"#222222"},"encoding":{"x":{"datum":-0.065333,"type":"quantitative","scale":{"domain":[-0.068,0.217778],"nice":false,"zero":false}},"y":{"field":"line","type":"quantitative","scale":{"domain":[-27.244,11.036],"reverse":true,"nice":false,"zero":false}},"text":{"field":"text"}}},
{"transform":[{"filter":"datum.seg==='main'"}],"mark":{"type":"text","align":"left","baseline":"middle","fontSize":18,"color":"#3a3a3a"},"encoding":{"x":{"datum":-0.065333,"type":"quantitative","scale":{"domain":[-0.068,0.217778],"nice":false,"zero":false}},"y":{"field":"line","type":"quantitative","scale":{"domain":[-27.244,11.036],"reverse":true,"nice":false,"zero":false}},"text":{"field":"text"}}},
{"transform":[{"filter":"datum.seg==='s1'"}],"mark":{"type":"text","align":"left","baseline":"middle","fontSize":18,"color":"#3a3a3a","dx":98.1},"encoding":{"x":{"datum":-0.065333,"type":"quantitative","scale":{"domain":[-0.068,0.217778],"nice":false,"zero":false}},"y":{"field":"line","type":"quantitative","scale":{"domain":[-27.244,11.036],"reverse":true,"nice":false,"zero":false}},"text":{"field":"text"}}},
{"transform":[{"filter":"datum.seg==='r1'"}],"mark":{"type":"text","align":"left","baseline":"middle","fontSize":18,"color":"#8f8f8f","dx":399.2},"encoding":{"x":{"datum":-0.065333,"type":"quantitative","scale":{"domain":[-0.068,0.217778],"nice":false,"zero":false}},"y":{"field":"line","type":"quantitative","scale":{"domain":[-27.244,11.036],"reverse":true,"nice":false,"zero":false}},"text":{"field":"text"}}},
{"transform":[{"filter":"datum.seg==='s9'"}],"mark":{"type":"text","align":"left","baseline":"middle","fontSize":18,"color":"#3a3a3a","dx":546.3},"encoding":{"x":{"datum":-0.065333,"type":"quantitative","scale":{"domain":[-0.068,0.217778],"nice":false,"zero":false}},"y":{"field":"line","type":"quantitative","scale":{"domain":[-27.244,11.036],"reverse":true,"nice":false,"zero":false}},"text":{"field":"text"}}},
{"transform":[{"filter":"datum.seg==='r2'"}],"mark":{"type":"text","align":"left","baseline":"middle","fontSize":18,"color":"#8f8f8f","dx":122.0},"encoding":{"x":{"datum":-0.065333,"type":"quantitative","scale":{"domain":[-0.068,0.217778],"nice":false,"zero":false}},"y":{"field":"line","type":"quantitative","scale":{"domain":[-27.244,11.036],"reverse":true,"nice":false,"zero":false}},"text":{"field":"text"}}},
{"transform":[{"filter":"datum.seg==='s10a'"}],"mark":{"type":"text","align":"left","baseline":"middle","fontSize":18,"color":"#3a3a3a","dx":230.1},"encoding":{"x":{"datum":-0.065333,"type":"quantitative","scale":{"domain":[-0.068,0.217778],"nice":false,"zero":false}},"y":{"field":"line","type":"quantitative","scale":{"domain":[-27.244,11.036],"reverse":true,"nice":false,"zero":false}},"text":{"field":"text"}}},
{"transform":[{"filter":"datum.seg==='r3'"}],"mark":{"type":"text","align":"left","baseline":"middle","fontSize":18,"color":"#8f8f8f","dx":433.2},"encoding":{"x":{"datum":-0.065333,"type":"quantitative","scale":{"domain":[-0.068,0.217778],"nice":false,"zero":false}},"y":{"field":"line","type":"quantitative","scale":{"domain":[-27.244,11.036],"reverse":true,"nice":false,"zero":false}},"text":{"field":"text"}}},
{"transform":[{"filter":"datum.seg==='s10b'"}],"mark":{"type":"text","align":"left","baseline":"middle","fontSize":18,"color":"#3a3a3a","dx":594.3},"encoding":{"x":{"datum":-0.065333,"type":"quantitative","scale":{"domain":[-0.068,0.217778],"nice":false,"zero":false}},"y":{"field":"line","type":"quantitative","scale":{"domain":[-27.244,11.036],"reverse":true,"nice":false,"zero":false}},"text":{"field":"text"}}}
]
}
]
}
